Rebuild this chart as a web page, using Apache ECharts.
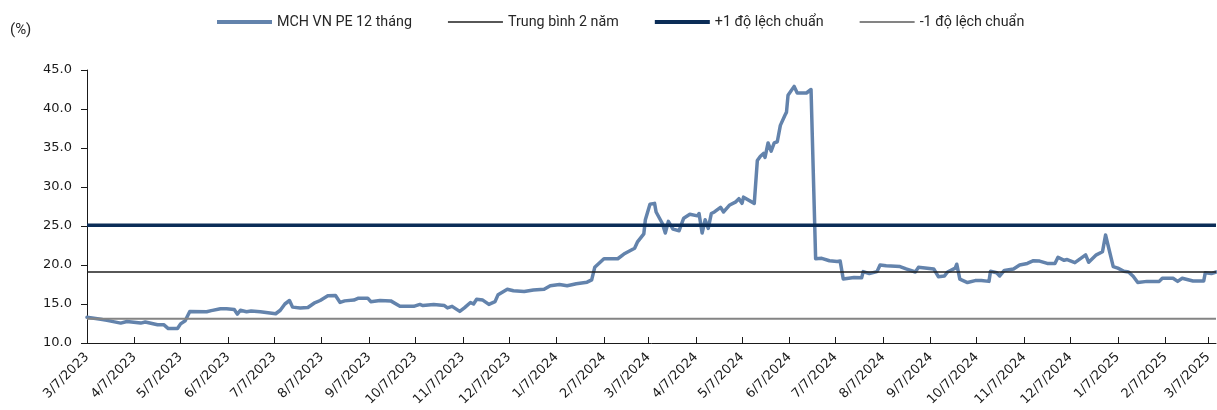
<!DOCTYPE html>
<html>
<head>
<meta charset="utf-8">
<style>
  html, body { margin: 0; padding: 0; background: #ffffff; }
  #chart { width: 1217px; height: 410px; }
</style>
<script src="https://cdn.jsdelivr.net/npm/echarts@6/dist/echarts.min.js"></script>
</head>
<body>
<div id="chart"></div>
<script>
// Trailing 12-month P/E of MCH, with its 2-year mean and ±1 standard deviation bands
const dates = [
  '2023-03-07','2023-03-16','2023-03-20','2023-03-29','2023-04-02','2023-04-11','2023-04-14','2023-04-22',
  '2023-04-26','2023-04-29','2023-05-05','2023-05-07','2023-05-10','2023-05-13','2023-05-24','2023-05-27',
  '2023-06-02','2023-06-06','2023-06-11','2023-06-13','2023-06-15','2023-06-19','2023-06-22','2023-06-28',
  '2023-07-08','2023-07-11','2023-07-14','2023-07-17','2023-07-19','2023-07-24','2023-07-29','2023-08-02',
  '2023-08-06','2023-08-11','2023-08-16','2023-08-19','2023-08-22','2023-08-28','2023-08-31','2023-09-06',
  '2023-09-08','2023-09-14','2023-09-21','2023-09-27','2023-10-06','2023-10-10','2023-10-12','2023-10-19',
  '2023-10-26','2023-10-28','2023-10-31','2023-11-05','2023-11-08','2023-11-12','2023-11-14','2023-11-16',
  '2023-11-20','2023-11-24','2023-11-28','2023-11-30','2023-12-06','2023-12-10','2023-12-17','2023-12-23',
  '2023-12-30','2024-01-03','2024-01-09','2024-01-14','2024-01-20','2024-01-27','2024-01-30','2024-02-01',
  '2024-02-07','2024-02-16','2024-02-20','2024-02-27','2024-02-29','2024-03-04','2024-03-05','2024-03-08',
  '2024-03-11','2024-03-12','2024-03-16','2024-03-18','2024-03-20','2024-03-23','2024-03-27','2024-03-30',
  '2024-04-03','2024-04-08','2024-04-09','2024-04-11','2024-04-13','2024-04-15','2024-04-17','2024-04-19',
  '2024-04-23','2024-04-25','2024-04-29','2024-05-03','2024-05-05','2024-05-07','2024-05-08','2024-05-15',
  '2024-05-17','2024-05-19','2024-05-21','2024-05-22','2024-05-24','2024-05-26','2024-05-28','2024-05-30',
  '2024-06-01','2024-06-04','2024-06-05','2024-06-06','2024-06-10','2024-06-12','2024-06-18','2024-06-19',
  '2024-06-21','2024-06-24','2024-06-28','2024-07-03','2024-07-08','2024-07-10','2024-07-12','2024-07-19',
  '2024-07-24','2024-07-25','2024-07-29','2024-08-03','2024-08-05','2024-08-09','2024-08-18','2024-08-22',
  '2024-08-28','2024-08-30','2024-09-09','2024-09-12','2024-09-16','2024-09-18','2024-09-23','2024-09-24',
  '2024-09-26','2024-10-01','2024-10-06','2024-10-10','2024-10-15','2024-10-16','2024-10-20','2024-10-22',
  '2024-10-25','2024-10-31','2024-11-04','2024-11-09','2024-11-13','2024-11-17','2024-11-22','2024-11-27',
  '2024-11-29','2024-12-03','2024-12-05','2024-12-10','2024-12-17','2024-12-19','2024-12-24','2024-12-28',
  '2024-12-30','2025-01-04','2025-01-07','2025-01-11','2025-01-14','2025-01-17','2025-01-20','2025-01-26',
  '2025-02-03','2025-02-05','2025-02-12','2025-02-15','2025-02-18','2025-02-25','2025-03-04','2025-03-05',
  '2025-03-09','2025-03-12'
];

const pe = [
  13.3, 13.05, 12.9, 12.55, 12.75, 12.55, 12.7, 12.35,
  12.35, 11.85, 11.85, 12.45, 12.85, 14.05, 14.0, 14.15,
  14.4, 14.4, 14.3, 13.7, 14.2, 14.0, 14.1, 14.0,
  13.75, 14.2, 15.0, 15.45, 14.6, 14.5, 14.55, 15.1,
  15.45, 16.05, 16.1, 15.2, 15.4, 15.5, 15.75, 15.75,
  15.3, 15.45, 15.4, 14.7, 14.7, 14.95, 14.8, 14.95,
  14.8, 14.5, 14.7, 14.05, 14.5, 15.2, 15.0, 15.6,
  15.5, 14.95, 15.3, 16.2, 16.9, 16.7, 16.6, 16.8,
  16.9, 17.35, 17.5, 17.35, 17.6, 17.8, 18.1, 19.7,
  20.8, 20.8, 21.4, 22.15, 23.0, 24.0, 25.8, 27.8,
  27.9, 26.8, 25.35, 24.1, 25.6, 24.6, 24.4, 26.0,
  26.5, 26.3, 26.6, 24.1, 25.8, 24.7, 26.6, 26.8,
  27.4, 26.8, 27.7, 28.1, 28.5, 27.9, 28.7, 27.9,
  33.4, 33.95, 34.3, 33.8, 35.65, 34.6, 35.65, 35.8,
  37.9, 39.2, 39.6, 41.75, 42.9, 42.05, 42.05, 41.9,
  42.5, 20.8, 20.85, 20.55, 20.45, 20.5, 18.2, 18.4,
  18.35, 19.15, 18.9, 19.15, 20.0, 19.9, 19.8, 19.5,
  19.1, 19.7, 19.5, 18.5, 18.6, 19.1, 19.6, 20.1,
  18.2, 17.75, 18.0, 18.0, 17.9, 19.2, 19.0, 18.6,
  19.3, 19.5, 20.0, 20.2, 20.55, 20.5, 20.2, 20.2,
  21.0, 20.6, 20.7, 20.3, 21.3, 20.35, 21.3, 21.7,
  23.85, 19.8, 19.6, 19.2, 19.1, 18.55, 17.75, 17.9,
  17.9, 18.3, 18.3, 17.9, 18.3, 17.95, 17.95, 19.0,
  18.9, 19.1
];

// 2-year average and one standard deviation either side
const mean2y = 19.1;
const plusOneSd = 25.1;
const minusOneSd = 13.1;

// Monthly tick dates on the x axis
const tickDates = [
  '2023-03-07','2023-04-07','2023-05-07','2023-06-07','2023-07-07','2023-08-07','2023-09-07',
  '2023-10-07','2023-11-07','2023-12-07','2024-01-07','2024-02-07','2024-03-07','2024-04-07',
  '2024-05-07','2024-06-07','2024-07-07','2024-08-07','2024-09-07','2024-10-07','2024-11-07',
  '2024-12-07','2025-01-07','2025-02-07','2025-03-07'
];

const seriesNames = ['MCH VN PE 12 tháng', 'Trung bình 2 năm', '+1 độ lệch chuẩn', '-1 độ lệch chuẩn'];

// 'YYYY-MM-DD' -> local-time milliseconds
function ts(s) {
  const p = s.split('-').map(Number);
  return new Date(p[0], p[1] - 1, p[2]).getTime();
}
function fmtDate(v) {
  const d = new Date(v);
  return (d.getMonth() + 1) + '/' + d.getDate() + '/' + d.getFullYear();
}

const axisStart = ts(dates[0]);
const axisEnd = ts(dates[dates.length - 1]);
const tickTs = tickDates.map(ts);

const peData = dates.map((d, i) => [ts(d), pe[i]]);
const flat = v => [[axisStart, v], [axisEnd, v]];

// legend swatch: a flat bar of the given thickness
const bar = h => 'path://M0,0H55V' + h + 'H0Z';

const chart = echarts.init(document.getElementById('chart'), null, { renderer: 'canvas' });

const textFont = 'Roboto, sans-serif';
const axisFont = '"DejaVu Sans", sans-serif';

chart.setOption({
  animation: false,
  backgroundColor: '#ffffff',
  grid: { left: 87, right: 1, top: 70, bottom: 67, containLabel: false },
  legend: {
    left: 217,
    top: 15,
    padding: 0,
    itemWidth: 55,
    itemHeight: 14,
    itemGap: 36,
    symbolKeepAspect: true,
    data: [
      { name: seriesNames[0], icon: bar(4) },
      { name: seriesNames[1], icon: bar(1.6) },
      { name: seriesNames[2], icon: bar(4) },
      { name: seriesNames[3], icon: bar(2) }
    ],
    textStyle: { fontFamily: textFont, fontSize: 14.3, color: '#262626' }
  },
  graphic: [{
    type: 'text',
    left: 10,
    top: 23,
    style: { text: '(%)', fontFamily: textFont, fontSize: 15, fill: '#262626' }
  }],
  xAxis: {
    type: 'value',
    min: axisStart,
    max: axisEnd,
    splitLine: { show: false },
    axisLine: { show: true, lineStyle: { color: '#1a1a1a', width: 1 } },
    axisTick: { show: true, inside: true, length: 6, customValues: tickTs, lineStyle: { color: '#1a1a1a' } },
    axisLabel: {
      customValues: tickTs,
      rotate: 45,
      margin: 12,
      fontFamily: axisFont,
      fontSize: 13,
      color: '#1a1a1a',
      formatter: fmtDate
    }
  },
  yAxis: {
    type: 'value',
    min: 10,
    max: 45,
    interval: 5,
    splitLine: { show: false },
    axisLine: { show: true, lineStyle: { color: '#1a1a1a', width: 1 } },
    axisTick: { show: true, inside: false, length: 6, lineStyle: { color: '#1a1a1a' } },
    axisLabel: {
      margin: 15,
      fontFamily: axisFont,
      fontSize: 13,
      color: '#1a1a1a',
      formatter: v => v.toFixed(1)
    }
  },
  series: [
    {
      name: seriesNames[0],
      type: 'line',
      data: peData,
      symbol: 'none',
      lineStyle: { color: '#6383ac', width: 3.5, join: 'round', cap: 'round' },
      itemStyle: { color: '#6383ac' }
    },
    {
      name: seriesNames[1],
      type: 'line',
      data: flat(mean2y),
      symbol: 'none',
      lineStyle: { color: '#1f1f1f', width: 1.5 },
      itemStyle: { color: '#1f1f1f' }
    },
    {
      name: seriesNames[2],
      type: 'line',
      data: flat(plusOneSd),
      symbol: 'none',
      lineStyle: { color: '#0b2d57', width: 3.5 },
      itemStyle: { color: '#0b2d57' }
    },
    {
      name: seriesNames[3],
      type: 'line',
      data: flat(minusOneSd),
      symbol: 'none',
      lineStyle: { color: '#848484', width: 2 },
      itemStyle: { color: '#848484' }
    }
  ]
});
</script>
</body>
</html>
